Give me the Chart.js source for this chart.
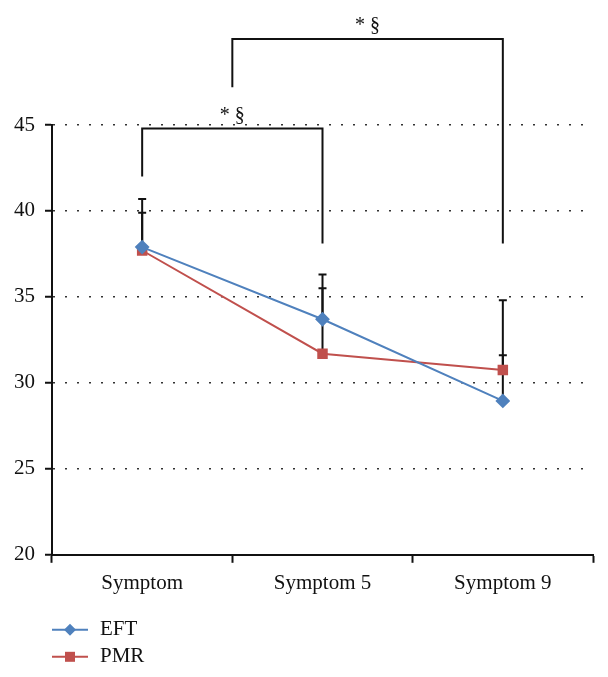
<!DOCTYPE html>
<html>
<head>
<meta charset="utf-8">
<script src="https://cdn.jsdelivr.net/npm/chart.js@4"></script>
<style>
  html, body { margin: 0; padding: 0; background: #fff; }
  #wrap { width: 608px; height: 677px; }
</style>
</head>
<body>
<div id="wrap"><canvas id="chart" width="608" height="677"></canvas></div>
<script>
const categorias = ['Symptom', 'Symptom 5', 'Symptom 9'];
const eft = [37.9, 33.7, 28.95];
const pmr = [37.7, 31.7, 30.75];
// upper end of each SD bar
const eftSup = [40.7, 36.3, 34.8];
const pmrSup = [39.9, 35.5, 31.6];
const yTicks = [20, 25, 30, 35, 40, 45];
// significance brackets: [from, to, left leg bottom, right leg bottom, top]
const brackets = [
    { desde: 0, hasta: 1, izq: 42.0, der: 38.1, arriba: 44.8, texto: '* §' },
    { desde: 0.5, hasta: 2, izq: 47.2, der: 38.1, arriba: 50.0, texto: '* §' }
];

const FUENTE = '"Liberation Serif", "DejaVu Serif", serif';

const errorBars = {
    id: 'errorBars',
    beforeDatasetsDraw(chart) {
        const { ctx, scales: { x, y } } = chart;
        ctx.save();
        ctx.strokeStyle = '#111';
        ctx.lineWidth = 2;
        [[eft, eftSup], [pmr, pmrSup]].forEach(([med, sup]) => {
            med.forEach((v, i) => {
                const px = x.getPixelForValue(i);
                const y0 = y.getPixelForValue(v);
                const y1 = y.getPixelForValue(sup[i]);
                ctx.beginPath();
                ctx.moveTo(px, y0); ctx.lineTo(px, y1);
                ctx.moveTo(px - 4, y1); ctx.lineTo(px + 4, y1);
                ctx.stroke();
            });
        });
        ctx.restore();
    }
};

const corchetes = {
    id: 'corchetes',
    afterDraw(chart) {
        const { ctx, scales: { x, y } } = chart;
        ctx.save();
        ctx.strokeStyle = '#111';
        ctx.lineWidth = 2;
        ctx.fillStyle = '#111';
        ctx.font = '20px ' + FUENTE;
        ctx.textAlign = 'center';
        ctx.textBaseline = 'bottom';
        brackets.forEach(b => {
            const x0 = x.getPixelForValue(b.desde);
            const x1 = x.getPixelForValue(b.hasta);
            const top = y.getPixelForValue(b.arriba);
            ctx.beginPath();
            ctx.moveTo(x0, y.getPixelForValue(b.izq));
            ctx.lineTo(x0, top);
            ctx.lineTo(x1, top);
            ctx.lineTo(x1, y.getPixelForValue(b.der));
            ctx.stroke();
            ctx.fillText(b.texto, (x0 + x1) / 2, top - 3);
        });
        ctx.restore();
    }
};

const leyenda = {
    id: 'leyenda',
    afterDraw(chart) {
        const { ctx, chartArea } = chart;
        ctx.save();
        ctx.font = '21px ' + FUENTE;
        ctx.textBaseline = 'middle';
        chart.data.datasets.forEach((ds, i) => {
            const yy = chartArea.bottom + 75 + i * 27;
            const x0 = chartArea.left;
            ctx.strokeStyle = ds.borderColor;
            ctx.lineWidth = 2;
            ctx.beginPath(); ctx.moveTo(x0, yy); ctx.lineTo(x0 + 36, yy); ctx.stroke();
            ctx.fillStyle = ds.backgroundColor;
            if (ds.pointStyle === 'rectRot') {
                ctx.beginPath();
                ctx.moveTo(x0 + 18, yy - 6); ctx.lineTo(x0 + 24, yy);
                ctx.lineTo(x0 + 18, yy + 6); ctx.lineTo(x0 + 12, yy);
                ctx.closePath(); ctx.fill();
            } else {
                ctx.fillRect(x0 + 13, yy - 5, 10, 10);
            }
            ctx.fillStyle = '#111';
            ctx.fillText(ds.label, x0 + 48, yy);
        });
        ctx.restore();
    }
};

new Chart(document.getElementById('chart'), {
    type: 'line',
    data: {
        labels: categorias,
        datasets: [
            { label: 'EFT', data: eft, borderColor: '#4f81bd', backgroundColor: '#4f81bd', borderWidth: 2, pointStyle: 'rectRot', pointRadius: 6, pointHoverRadius: 6, tension: 0 },
            { label: 'PMR', data: pmr, borderColor: '#c0504d', backgroundColor: '#c0504d', borderWidth: 2, pointStyle: 'rect', pointRadius: 6, pointHoverRadius: 6, tension: 0 }
        ]
    },
    options: {
        responsive: false,
        animation: false,
        layout: { padding: { top: 125, right: 15, left: 4, bottom: 73 } },
        plugins: { legend: { display: false }, tooltip: { enabled: false } },
        scales: {
            x: {
                offset: true,
                border: { color: '#111', width: 2 },
                grid: { drawOnChartArea: false, tickLength: 8, tickColor: '#111', tickWidth: 2, offset: true },
                ticks: { color: '#111', padding: 8, font: { family: FUENTE, size: 21 } }
            },
            y: {
                min: 20, max: 45,
                afterBuildTicks: s => { s.ticks = yTicks.map(v => ({ value: v })); },
                border: { color: '#111', width: 2, dash: [2, 10] },
                grid: { color: '#333', lineWidth: 1.5, tickLength: 7, tickColor: '#111', tickWidth: 2, tickBorderDash: [] },
                ticks: { color: '#111', padding: 10, font: { family: FUENTE, size: 21 } }
            }
        }
    },
    plugins: [errorBars, corchetes, leyenda]
});
</script>
</body>
</html>
